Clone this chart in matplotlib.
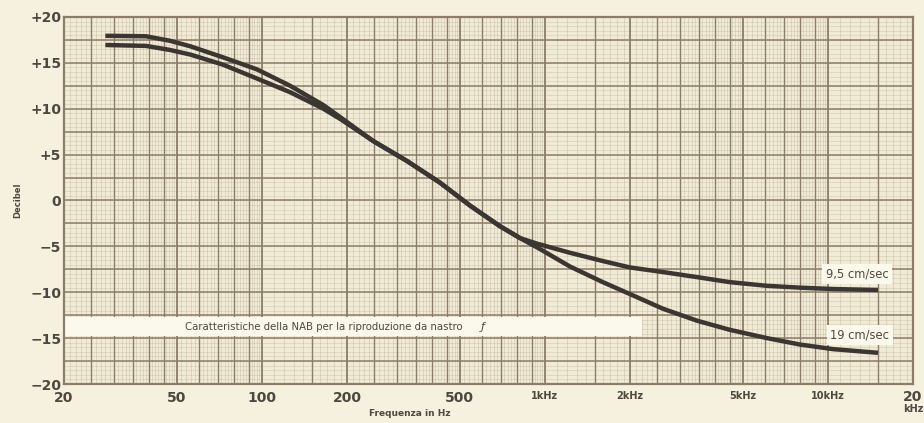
import numpy as np
import matplotlib
matplotlib.use("Agg")
import matplotlib.pyplot as plt

# ---- data ----
freq_19 = [28, 39, 47.5, 56, 73, 96, 126, 165, 189, 247, 326, 426, 544, 694, 818, 938,
           1228, 1604, 2000, 2617, 3450, 4512, 6096, 7977, 10436, 15040]
db_19 = [17.95, 17.9, 17.4, 16.8, 15.6, 14.3, 12.5, 10.4, 9.1, 6.5, 4.3, 1.95, -0.55, -2.8, -4.1, -5.1,
         -7.2, -8.9, -10.2, -11.8, -13.1, -14.1, -15.0, -15.7, -16.2, -16.6]
freq_95 = [28, 39, 47.5, 56, 73, 96, 126, 165, 189, 247, 326, 426, 544, 694, 818, 938,
           1228, 1604, 2000, 2617, 3450, 4512, 6096, 7977, 10436, 15040]
db_95 = [16.95, 16.85, 16.4, 15.9, 14.8, 13.3, 11.8, 10.0, 8.9, 6.5, 4.3, 1.95, -0.55, -2.8, -4.1, -4.7,
         -5.7, -6.6, -7.3, -7.8, -8.35, -8.9, -9.3, -9.5, -9.65, -9.75]

y_ticks = [20, 15, 10, 5, 0, -5, -10, -15, -20]
y_labels = ["+20", "+15", "+10", "+5", "0", "\u22125", "\u221210", "\u221215", "\u221220"]
x_ticks = [20, 50, 100, 200, 500, 1000, 2000, 5000, 10000]
x_labels = ["20", "50", "100", "200", "500", "1kHz", "2kHz", "5kHz", "10kHz"]

caption = "Caratteristiche della NAB per la riproduzione da nastro"
label_95 = "9,5 cm/sec"
label_19 = "19 cm/sec"

paper = "#f1ebd5"
page = "#f6f1de"
gridc = "#8c7d68"
ink = "#3b3631"
textc = "#4d4740"
boxc = "#fbf8ec"

fig = plt.figure(figsize=(9.24, 4.23), dpi=100, facecolor=page)
ax = fig.add_axes([64/924, 39/423, 849/924, 367/423])
ax.set_facecolor(paper)
ax.set_xscale("log")
ax.set_xlim(20, 20000)
ax.set_ylim(-20, 20)

# graph paper grid
major_mult = [1, 1.5, 2, 2.5, 3, 3.5, 4, 4.5, 5, 6, 7, 8, 9]
for dec in [10, 100, 1000, 10000]:
    for m in major_mult:
        f = m * dec
        if 20 < f < 20000:
            lw = 1.3 if m in (1, 2, 5) else 1.0
            ax.axvline(f, color=gridc, lw=lw, zorder=1)
    fine = list(np.arange(1.0, 5.0, 0.1)) + list(np.arange(5.0, 10.0, 0.2))
    for m in fine:
        f = m * dec
        if 20 < f < 20000:
            ax.axvline(f, color=gridc, lw=0.4, alpha=0.35, zorder=0.5)
for yv in np.arange(-20, 20.01, 2.5):
    ax.axhline(yv, color=gridc, lw=1.1, zorder=1)
for yv in np.arange(-20, 20.01, 0.5):
    ax.axhline(yv, color=gridc, lw=0.4, alpha=0.3, zorder=0.5)

# caption band
ax.axhspan(-14.8, -12.7, xmin=0, xmax=(642-64)/849, color=boxc, zorder=2, lw=0)
ax.text((324-64)/849, (-13.75+20)/40, caption, transform=ax.transAxes,
        ha="center", va="center", fontsize=7.3, color=textc, zorder=3)
ax.text((483-64)/849, (-13.75+20)/40, "\u0192", transform=ax.transAxes,
        ha="center", va="center", fontsize=8, color=textc, style="italic", zorder=3)

# curves
ax.plot(freq_95, db_95, color=ink, lw=3.2, solid_capstyle="butt",
        solid_joinstyle="round", zorder=4)
ax.plot(freq_19, db_19, color=ink, lw=3.2, solid_capstyle="butt",
        solid_joinstyle="round", zorder=4)

# curve labels
bbox = dict(boxstyle="square,pad=0.3", fc=boxc, ec="none")
ax.text((857-64)/849, (201-275)/(9.2*40) + 0.5, label_95, transform=ax.transAxes,
        ha="center", va="center", fontsize=8.3, color=textc, bbox=bbox, zorder=5)
ax.text((860-64)/849, (201-336)/(9.2*40) + 0.5, label_19, transform=ax.transAxes,
        ha="center", va="center", fontsize=8.3, color=textc, bbox=bbox, zorder=5)

for s in ax.spines.values():
    s.set_color(gridc)
    s.set_linewidth(1.6)

ax.set_yticks(y_ticks)
ax.set_yticklabels(y_labels, fontsize=10, fontweight="bold", color=textc)
ax.set_xticks(x_ticks)
ax.set_xticklabels(x_labels, fontweight="bold", color=textc)
for lab, t in zip(ax.get_xticklabels(), x_labels):
    lab.set_fontsize(10 if "k" not in t else 7)
ax.xaxis.set_minor_locator(matplotlib.ticker.NullLocator())
ax.tick_params(axis="x", length=0, pad=5)
ax.tick_params(axis="y", length=0, pad=2)

fig.text(913/924, 1 - 390/423, "20", ha="center", va="top", fontsize=10,
         fontweight="bold", color=textc)
fig.text(913/924, 1 - 404/423, "kHz", ha="center", va="top", fontsize=7,
         fontweight="bold", color=textc)
fig.text(18/924, 1 - 200/423, "Decibel", rotation=90, ha="center", va="center",
         fontsize=6, fontweight="bold", color=textc)
fig.text(410/924, 1 - 413/423, "Frequenza in Hz", ha="center", va="center",
         fontsize=6.5, fontweight="bold", color=textc)

fig.savefig("out.png", dpi=100, facecolor=page)
